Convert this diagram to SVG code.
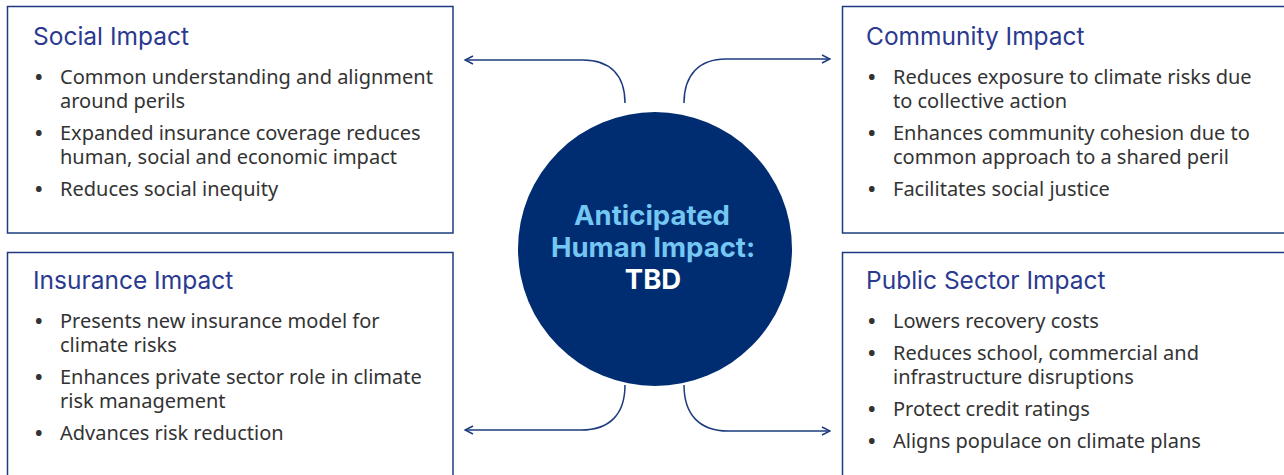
<svg xmlns="http://www.w3.org/2000/svg" width="1284" height="475" viewBox="0 0 1284 475">
<defs>
<style>
.box{fill:#ffffff;stroke:#1d3b7e;stroke-width:1.5}
.head{font-family:Inter,"Noto Sans",sans-serif;font-size:24.5px;fill:#2b3990}
.body{font-family:"Noto Sans","Open Sans",sans-serif;font-size:20px;fill:#333333}
.bul{font-weight:700}
.conn{fill:none;stroke:#1d3b7e;stroke-width:1.5}
.ctitle{font-family:Inter,"Noto Sans",sans-serif;font-size:27.5px;font-weight:700;text-anchor:middle}
</style>
<marker id="arr" viewBox="0 0 10 10" refX="9" refY="5" markerWidth="10" markerHeight="10" markerUnits="userSpaceOnUse" orient="auto">
<path d="M1,1 L9,5 L1,9" fill="none" stroke="#1d3b7e" stroke-width="1.5"/>
</marker>
</defs>
<rect width="1284" height="475" fill="#ffffff"/>
<g id="social">
<rect class="box" x="7.5" y="6.5" width="445.5" height="226.5"/>
<text class="head" x="33" y="45">Social Impact</text>
<text class="body"><tspan class="bul" x="35" y="84">•</tspan><tspan x="60" y="84">Common understanding and alignment</tspan><tspan x="60" y="108">around perils</tspan><tspan class="bul" x="35" y="140">•</tspan><tspan x="60" y="140">Expanded insurance coverage reduces</tspan><tspan x="60" y="164">human, social and economic impact</tspan><tspan class="bul" x="35" y="196">•</tspan><tspan x="60" y="196">Reduces social inequity</tspan></text>
</g>
<g id="community">
<rect class="box" x="842.5" y="6.5" width="460" height="226.5"/>
<text class="head" x="866" y="45">Community Impact</text>
<text class="body"><tspan class="bul" x="868" y="84">•</tspan><tspan x="893" y="84">Reduces exposure to climate risks due</tspan><tspan x="893" y="108">to collective action</tspan><tspan class="bul" x="868" y="140">•</tspan><tspan x="893" y="140">Enhances community cohesion due to</tspan><tspan x="893" y="164">common approach to a shared peril</tspan><tspan class="bul" x="868" y="196">•</tspan><tspan x="893" y="196">Facilitates social justice</tspan></text>
</g>
<g id="insurance">
<rect class="box" x="7.5" y="252.5" width="445.5" height="240"/>
<text class="head" x="33" y="289">Insurance Impact</text>
<text class="body"><tspan class="bul" x="35" y="328">•</tspan><tspan x="60" y="328">Presents new insurance model for</tspan><tspan x="60" y="352">climate risks</tspan><tspan class="bul" x="35" y="384">•</tspan><tspan x="60" y="384">Enhances private sector role in climate</tspan><tspan x="60" y="408">risk management</tspan><tspan class="bul" x="35" y="440">•</tspan><tspan x="60" y="440">Advances risk reduction</tspan></text>
</g>
<g id="public">
<rect class="box" x="842.5" y="252.5" width="460" height="240"/>
<text class="head" x="866" y="289">Public Sector Impact</text>
<text class="body"><tspan class="bul" x="868" y="328">•</tspan><tspan x="893" y="328">Lowers recovery costs</tspan><tspan class="bul" x="868" y="360">•</tspan><tspan x="893" y="360">Reduces school, commercial and</tspan><tspan x="893" y="384">infrastructure disruptions</tspan><tspan class="bul" x="868" y="416">•</tspan><tspan x="893" y="416">Protect credit ratings</tspan><tspan class="bul" x="868" y="448">•</tspan><tspan x="893" y="448">Aligns populace on climate plans</tspan></text>
</g>
<g id="center">
<circle cx="655" cy="249" r="137" fill="#002d72"/>
<text class="ctitle" x="652" y="225" fill="#74c7f2">Anticipated</text>
<text class="ctitle" x="653" y="257" fill="#74c7f2">Human Impact:</text>
<text class="ctitle" x="653" y="289" fill="#ffffff">TBD</text>
</g>
<g id="connectors">
<path class="conn" marker-end="url(#arr)" d="M625,103 C625,75 610,60 583,60 H465"/>
<path class="conn" marker-end="url(#arr)" d="M684,103 C684,75 699,59 726,59 H830"/>
<path class="conn" marker-end="url(#arr)" d="M625,385 C625,414 610,430 581,430 H465"/>
<path class="conn" marker-end="url(#arr)" d="M684,385 C684,414 699,431 728,431 H830"/>
</g>
</svg>
